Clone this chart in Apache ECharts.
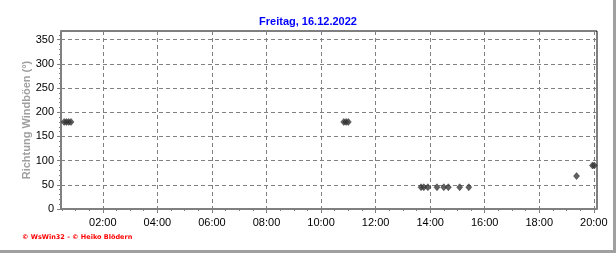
<!DOCTYPE html>
<html><head><meta charset="utf-8">
<script src="https://cdn.jsdelivr.net/npm/echarts@6/dist/echarts.min.js"></script>
<style>html,body{margin:0;padding:0;background:#fff}#c{width:616px;height:253px}</style>
</head><body><div id="c"></div>
<script>
const title = 'Freitag, 16.12.2022';
const yName = 'Richtung Windböen (°)';
const footer = '© WsWin32 - © Heiko Blödern';
const times = ['00:35','00:40','00:45','00:50','10:50','10:55','11:00','13:40','13:46','13:55','14:15','14:30','14:40','15:05','15:25','19:22','19:57','20:01'];
const values = [180,180,180,180,180,180,180,45,45,45,45,45,45,45,45,68,90,90];
const xTickLabels = ['02:00','04:00','06:00','08:00','10:00','12:00','14:00','16:00','18:00','20:00'];
const yTickLabels = [0,50,100,150,200,250,300,350];
const xMinMin = 28, xMaxMin = 1207, yMax = 368;

const toMin = s => { const p = s.split(':'); return (+p[0])*60 + (+p[1]); };
const majorX = xTickLabels.map(toMin);
const minorX = []; for (let m = 30; m <= xMaxMin; m += 30) minorX.push(m);
const minorY = []; for (let v = 0; v <= 360; v += 10) minorY.push(v);
const pad = n => (n < 10 ? '0' : '') + n;
const fmt = v => pad(Math.floor(v/60)) + ':' + pad(Math.round(v%60));

const grid = {left: 61, right: 19, top: 31, bottom: 44};
const chart = echarts.init(document.getElementById('c'), null, {renderer: 'canvas'});
chart.setOption({
  animation: false,
  backgroundColor: '#fff',
  title: {text: title, left: 'center', top: 11, itemGap: 0,
    textStyle: {color: '#0000ff', fontSize: 11, fontWeight: 'bold', fontFamily: 'Liberation Sans'}},
  grid: [
    Object.assign({show: true, borderColor: '#000', borderWidth: 1, backgroundColor: 'transparent'}, grid),
    Object.assign({show: false}, grid)
  ],
  xAxis: [{
    type: 'value', gridIndex: 0, min: xMinMin, max: xMaxMin,
    axisLine: {show: true, onZero: false, lineStyle: {color: '#808080', width: 2}},
    axisTick: {show: true, customValues: majorX, length: 4, lineStyle: {color: '#808080'}},
    axisLabel: {show: true, customValues: majorX, formatter: fmt, color: '#000', fontSize: 11,
      fontFamily: 'Liberation Sans', margin: 8},
    splitLine: {show: true, lineStyle: {color: '#808080', type: [4, 3], width: 1}}
  }, {
    type: 'value', gridIndex: 1, min: xMinMin, max: xMaxMin, position: 'bottom',
    axisLine: {show: false},
    axisTick: {show: true, customValues: minorX, length: 2, lineStyle: {color: '#808080'}},
    axisLabel: {show: false}, splitLine: {show: false}
  }],
  yAxis: [{
    type: 'value', gridIndex: 0, min: 0, max: yMax,
    name: yName, nameLocation: 'middle', nameGap: 29, nameRotate: 90, nameMoveOverlap: false,
    nameTextStyle: {color: '#a0a0a0', fontSize: 11, fontWeight: 'bold', fontFamily: 'Liberation Sans'},
    axisLine: {show: true, onZero: false, lineStyle: {color: '#808080', width: 2}},
    axisTick: {show: true, customValues: yTickLabels, length: 4, lineStyle: {color: '#808080'}},
    axisLabel: {show: true, customValues: yTickLabels, color: '#000', fontSize: 11,
      fontFamily: 'Liberation Sans', margin: 7},
    splitLine: {show: true, lineStyle: {color: '#808080', type: [4, 3], width: 1}}
  }, {
    type: 'value', gridIndex: 1, min: 0, max: yMax, position: 'left',
    axisLine: {show: false},
    axisTick: {show: true, customValues: minorY, length: 2, lineStyle: {color: '#808080'}},
    axisLabel: {show: false}, splitLine: {show: false}
  }],
  graphic: [
    {type: 'text', left: 22, top: 234, style: {text: footer, fill: '#ff0000', font: 'bold 6.5px "DejaVu Sans"'}},
    {type: 'rect', shape: {x: 613, y: 0, width: 3, height: 253}, style: {fill: '#a0a0a0'}},
    {type: 'rect', shape: {x: 0, y: 250, width: 616, height: 3}, style: {fill: '#a0a0a0'}}
  ],
  series: [{
    type: 'scatter', xAxisIndex: 0, yAxisIndex: 0,
    symbol: 'diamond', symbolSize: [6, 7],
    itemStyle: {color: '#3a3a3a', borderColor: '#111', borderWidth: 0.5},
    data: times.map((t, i) => [toMin(t), values[i]])
  }]
});
</script></body></html>
